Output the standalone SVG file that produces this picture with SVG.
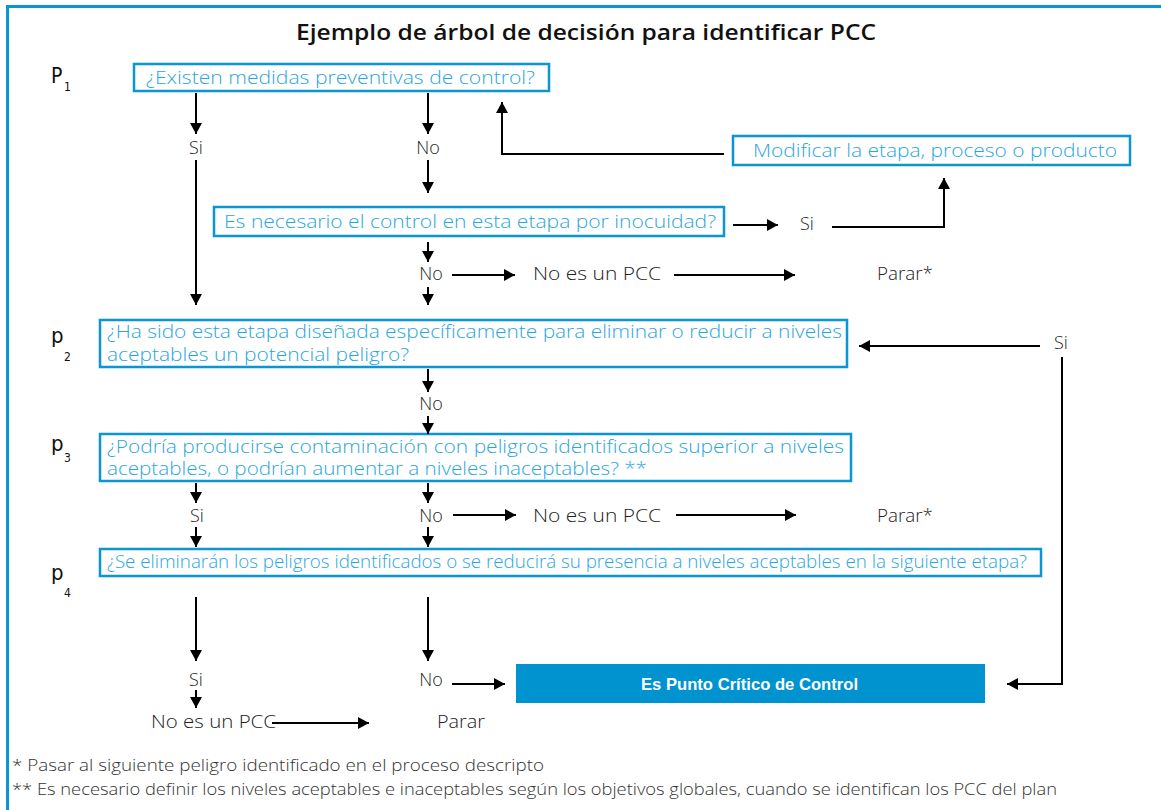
<svg xmlns="http://www.w3.org/2000/svg" width="1161" height="810" viewBox="0 0 1161 810">
<defs>
<marker id="ah" markerUnits="userSpaceOnUse" markerWidth="11" markerHeight="12" refX="11" refY="6" orient="auto">
<path d="M0,0 L11,6 L0,12 z" fill="#000"/>
</marker>
<style>
.frame{fill:none;stroke:#0a95d4;stroke-width:3}
.box{fill:#fff;stroke:#0a95d4;stroke-width:2.5}
.bt{font-family:"Open Sans","Liberation Sans",sans-serif;font-weight:300;font-size:18px;fill:#29a6df}
.lbl{font-family:"Open Sans","Liberation Sans",sans-serif;font-weight:300;font-size:18px;fill:#222}
.pl{font-family:"DejaVu Sans Condensed","Liberation Sans",sans-serif;fill:#111}
.conn path{fill:none;stroke:#000;stroke-width:2;marker-end:url(#ah)}
.foot{font-family:"Open Sans","Liberation Sans",sans-serif;font-weight:300;font-size:16px;fill:#333}
</style>
</defs>
<rect width="1161" height="810" fill="#fff"/>
<path class="frame" d="M7.5,810 V6.5 H1161"/>
<text x="586" y="40" text-anchor="middle" font-family="Open Sans, Liberation Sans, sans-serif" font-size="21" font-weight="600" fill="#111" textLength="580" lengthAdjust="spacingAndGlyphs">Ejemplo de árbol de decisión para identificar PCC</text>

<g id="p-labels">
<text class="pl" x="51" y="83" font-size="21">P</text><text class="pl" x="64" y="91" font-size="12">1</text>
<text class="pl" x="51" y="343" font-size="22">p</text><text class="pl" x="64" y="361" font-size="12">2</text>
<text class="pl" x="51" y="451" font-size="22">p</text><text class="pl" x="64" y="462" font-size="12">3</text>
<text class="pl" x="51" y="580" font-size="22">p</text><text class="pl" x="64" y="597" font-size="12">4</text>
</g>

<g id="q1"><rect class="box" x="134" y="64" width="415" height="27"/>
<text class="bt" x="146" y="84" textLength="389" lengthAdjust="spacingAndGlyphs">¿Existen medidas preventivas de control?</text></g>

<g id="q1b"><rect class="box" x="214" y="207" width="510" height="29"/>
<text class="bt" x="224" y="228" textLength="492" lengthAdjust="spacingAndGlyphs">Es necesario el control en esta etapa por inocuidad?</text></g>

<g id="modificar"><rect class="box" x="733" y="136" width="397" height="29"/>
<text class="bt" x="753" y="157" textLength="364" lengthAdjust="spacingAndGlyphs">Modificar la etapa, proceso o producto</text></g>

<g id="q2"><rect class="box" x="100" y="320" width="747" height="47"/>
<text class="bt" x="107" y="338" textLength="735" lengthAdjust="spacingAndGlyphs">¿Ha sido esta etapa diseñada específicamente para eliminar o reducir a niveles</text>
<text class="bt" x="107" y="361" textLength="302" lengthAdjust="spacingAndGlyphs">aceptables un potencial peligro?</text></g>

<g id="q3"><rect class="box" x="100" y="434" width="751" height="47"/>
<text class="bt" x="107" y="453" textLength="737" lengthAdjust="spacingAndGlyphs">¿Podría producirse contaminación con peligros identificados superior a niveles</text>
<text class="bt" x="107" y="475" textLength="540" lengthAdjust="spacingAndGlyphs">aceptables, o podrían aumentar a niveles inaceptables? **</text></g>

<g id="q4"><rect class="box" x="100" y="549" width="941" height="27"/>
<text class="bt" x="107" y="568" textLength="920" lengthAdjust="spacingAndGlyphs">¿Se eliminarán los peligros identificados o se reducirá su presencia a niveles aceptables en la siguiente etapa?</text></g>

<g id="pcc"><rect x="516" y="664" width="469" height="39" fill="#0093cf"/>
<text x="749.5" y="690" text-anchor="middle" font-family="Liberation Sans, sans-serif" font-size="17" font-weight="bold" fill="#fff" textLength="217" lengthAdjust="spacingAndGlyphs">Es Punto Crítico de Control</text></g>

<g id="labels">
<text class="lbl" x="196" y="154" text-anchor="middle">Si</text>
<text class="lbl" x="428" y="154" text-anchor="middle">No</text>
<text class="lbl" x="807" y="230" text-anchor="middle">Si</text>
<text class="lbl" x="431" y="280" text-anchor="middle">No</text>
<text class="lbl" x="533" y="280" textLength="128" lengthAdjust="spacingAndGlyphs">No es un PCC</text>
<text class="lbl" x="877" y="280" textLength="56" lengthAdjust="spacingAndGlyphs">Parar*</text>
<text class="lbl" x="1061" y="349" text-anchor="middle">Si</text>
<text class="lbl" x="431" y="410" text-anchor="middle">No</text>
<text class="lbl" x="197" y="522" text-anchor="middle">Si</text>
<text class="lbl" x="431" y="522" text-anchor="middle">No</text>
<text class="lbl" x="533" y="522" textLength="128" lengthAdjust="spacingAndGlyphs">No es un PCC</text>
<text class="lbl" x="877" y="522" textLength="56" lengthAdjust="spacingAndGlyphs">Parar*</text>
<text class="lbl" x="196" y="686" text-anchor="middle">Si</text>
<text class="lbl" x="431" y="686" text-anchor="middle">No</text>
<text class="lbl" x="151" y="728" textLength="125" lengthAdjust="spacingAndGlyphs">No es un PCC</text>
<text class="lbl" x="437" y="728" textLength="48" lengthAdjust="spacingAndGlyphs">Parar</text>
</g>

<g id="connectors" class="conn">
<path d="M196,93 V134"/>
<path d="M428,93 V134"/>
<path d="M196,160 V305"/>
<path d="M428,160 V193"/>
<path d="M733,225 H778"/>
<path d="M832,227 H944 V178"/>
<path d="M724,154 H502 V102"/>
<path d="M428,242 V262"/>
<path d="M452,275 H515"/>
<path d="M674,275 H795"/>
<path d="M428,287 V305"/>
<path d="M1040,346 H859"/>
<path d="M1062,357 V684 H1007"/>
<path d="M428,369 V392"/>
<path d="M428,416 V434"/>
<path d="M196,483 V503"/>
<path d="M428,483 V503"/>
<path d="M196,527 V547"/>
<path d="M428,527 V547"/>
<path d="M453,515 H516"/>
<path d="M676,515 H796"/>
<path d="M196,597 V661"/>
<path d="M428,597 V661"/>
<path d="M196,690 V708"/>
<path d="M272,723 H369"/>
<path d="M452,684 H505"/>
</g>

<g id="footnotes">
<text class="foot" x="12" y="771" textLength="532" lengthAdjust="spacingAndGlyphs">* Pasar al siguiente peligro identificado en el proceso descripto</text>
<text class="foot" x="12" y="795" textLength="1045" lengthAdjust="spacingAndGlyphs">** Es necesario definir los niveles aceptables e inaceptables según los objetivos globales, cuando se identifican los PCC del plan</text>
</g>
</svg>
